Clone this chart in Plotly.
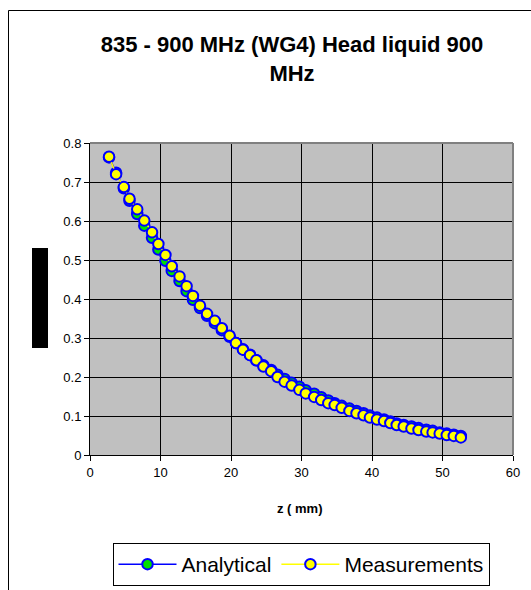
import plotly.graph_objects as go

# Depth z (mm)
z_mm = [2.7, 3.7, 4.8, 5.6, 6.7, 7.7, 8.8, 9.7, 10.7, 11.6, 12.7, 13.7, 14.6, 15.6,
        16.6, 17.7, 18.7, 19.8, 20.7, 21.7, 22.7, 23.6, 24.6, 25.7, 26.6, 27.6, 28.6,
        29.7, 30.6, 31.8, 32.8, 33.8, 34.7, 35.7, 36.8, 37.8, 38.8, 39.7, 40.7, 41.7,
        42.6, 43.5, 44.5, 45.6, 46.6, 47.7, 48.6, 49.6, 50.6, 51.6, 52.6]

measurements = [0.765, 0.720, 0.687, 0.657, 0.630, 0.601, 0.571, 0.541, 0.513, 0.484,
                0.458, 0.433, 0.408, 0.383, 0.362, 0.344, 0.325, 0.306, 0.287, 0.270,
                0.256, 0.243, 0.227, 0.215, 0.200, 0.188, 0.178, 0.167, 0.158, 0.149,
                0.141, 0.133, 0.128, 0.121, 0.113, 0.107, 0.102, 0.096, 0.091, 0.087,
                0.082, 0.077, 0.073, 0.068, 0.064, 0.060, 0.058, 0.055, 0.051, 0.049,
                0.045]

analytical = [0.763, 0.724, 0.684, 0.652, 0.618, 0.588, 0.557, 0.527, 0.498, 0.472,
              0.446, 0.420, 0.398, 0.377, 0.357, 0.338, 0.320, 0.303, 0.287, 0.271,
              0.257, 0.243, 0.230, 0.218, 0.206, 0.195, 0.185, 0.175, 0.166, 0.157,
              0.148, 0.140, 0.133, 0.126, 0.119, 0.113, 0.107, 0.101, 0.096, 0.091,
              0.086, 0.081, 0.077, 0.073, 0.069, 0.065, 0.062, 0.058, 0.055, 0.052,
              0.049]

x_ticks = [0, 10, 20, 30, 40, 50, 60]
y_ticks = [0, 0.1, 0.2, 0.3, 0.4, 0.5, 0.6, 0.7, 0.8]

FONT = "Liberation Sans, Arial, sans-serif"

fig = go.Figure()
fig.add_trace(go.Scatter(
    x=z_mm, y=analytical, name="Analytical", mode="lines+markers",
    line=dict(color="#0000ff", width=1.5),
    marker=dict(size=10.5, color="#00e000", line=dict(color="#0000ff", width=2)),
))
fig.add_trace(go.Scatter(
    x=z_mm, y=measurements, name="Measurements", mode="lines+markers",
    line=dict(color="#ffff00", width=1.5),
    marker=dict(size=10.5, color="#ffff00", line=dict(color="#0000ff", width=2)),
))

W, H = 531, 590
L, R, T, B = 90, 18, 143, 135
pw, ph = W - L - R, H - T - B

def px(xp):
    return (xp - L) / pw

def py(yp):
    return (H - B - yp) / ph

fig.update_layout(
    width=W, height=H,
    margin=dict(l=L, r=R, t=T, b=B, autoexpand=False),
    paper_bgcolor="white",
    plot_bgcolor="#c0c0c0",
    font=dict(family=FONT, color="black", size=13),
    title=dict(
        text="835 - 900 MHz (WG4) Head liquid 900<br>MHz",
        x=292 / W, xanchor="center", y=1 - 52 / H, yanchor="middle",
        font=dict(size=22, family=FONT, color="black", weight="bold"),
    ),
    xaxis=dict(
        range=[0, 60], tickvals=x_ticks, showgrid=True, gridcolor="black", gridwidth=1,
        showline=True, linecolor="black", linewidth=1, ticks="outside", ticklen=5,
        tickcolor="black", zeroline=False, tickfont=dict(size=13),
    ),
    yaxis=dict(
        range=[0, 0.8], tickvals=y_ticks, showgrid=True, gridcolor="black", gridwidth=1,
        showline=True, linecolor="black", linewidth=1, ticks="outside", ticklen=5,
        tickcolor="black", zeroline=False, tickfont=dict(size=13),
    ),
    showlegend=True,
    legend=dict(
        orientation="h", x=px(301), xanchor="center", y=py(543), yanchor="top",
        bordercolor="black", borderwidth=1, bgcolor="white",
        font=dict(size=21, family=FONT, color="black"),
        itemwidth=58,
    ),
    annotations=[
        dict(text="z ( mm)", xref="paper", yref="paper", x=px(300), y=py(508),
             xanchor="center", yanchor="middle", showarrow=False,
             font=dict(size=13, family=FONT, color="black", weight="bold")),
    ],
    shapes=[
        # outer chart border
        dict(type="rect", xref="paper", yref="paper", x0=px(8.5), x1=px(560),
             y0=py(640), y1=py(10.5), line=dict(color="black", width=1), layer="below"),
        # plot-area top/right gray border
        dict(type="line", xref="paper", yref="paper", x0=0, x1=1, y0=1, y1=1,
             line=dict(color="#808080", width=2)),
        dict(type="line", xref="paper", yref="paper", x0=1, x1=1, y0=0, y1=1,
             line=dict(color="#808080", width=2)),
        # black block where the y-axis title sits
        dict(type="rect", xref="paper", yref="paper", x0=px(32), x1=px(48),
             y0=py(348), y1=py(248), fillcolor="black", line=dict(width=0)),
    ],
)

fig.write_html(
    "out.html",
    config={"displayModeBar": False},
    post_script="document.body.style.margin='0';document.body.style.overflow='hidden';",
)
